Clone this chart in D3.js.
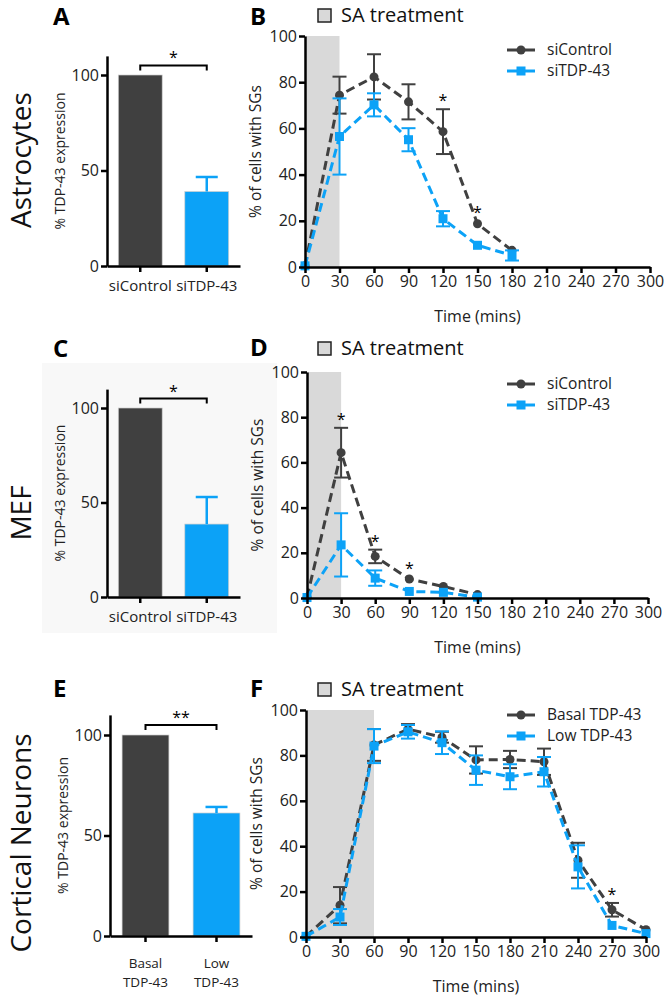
<!DOCTYPE html>
<html>
<head>
<meta charset="utf-8">
<script src="https://cdn.jsdelivr.net/npm/d3@7"></script>
<style>
  body { margin: 0; background: #fff; }
  text { font-family: "Open Sans", sans-serif; }
</style>
</head>
<body>
<div id="fig"></div>
<script>
// ---- bar panels (A, C, E) ----
const barCats = ['siControl', 'siTDP-43'];
const barCatsE = ['Basal TDP-43', 'Low TDP-43'];
const aVals = [100, 39];
const aErr = [0, 7.6];
const cVals = [100, 38.6];
const cErr = [0, 14.3];
const eVals = [100, 61.2];
const eErr = [0, 3];

// ---- time course panels (B, D, F) ----
const timeTicks = [0, 30, 60, 90, 120, 150, 180, 210, 240, 270, 300];

const bTimes = [0, 30, 60, 90, 120, 150, 180];
const bCtrl = [0.5, 74.4, 82.3, 71.5, 58.6, 18.7, 7.2];
const bCtrlErr = [0.5, 8, 9.8, 7.6, 9.7, 1, 0.8];
const bTdp = [0.5, 56.5, 70.2, 55.1, 20.9, 9.4, 5];
const bTdpErr = [0.5, 16.5, 5, 5, 3.3, 1, 2.2];
const bSig = [120, 150];

const dTimes = [0, 30, 60, 90, 120, 150];
const dCtrl = [0.3, 64.3, 18.4, 8.4, 5.1, 1.5];
const dCtrlErr = [0.3, 11, 3, 0.8, 0.6, 0.5];
const dTdp = [0.2, 23.5, 8.8, 2.9, 2.5, 0.4];
const dTdpErr = [0.2, 14, 3.4, 1, 0.8, 0.3];
const dSig = [30, 60, 90];

const fTimes = [0, 30, 60, 90, 120, 150, 180, 210, 240, 270, 300];
const fBasal = [0.3, 14, 84.6, 91.6, 88, 78, 78.2, 77.2, 33.8, 12, 3.2];
const fBasalErr = [0.3, 8, 7, 2.2, 2.4, 6, 3.8, 5.8, 7.7, 3, 0.6];
const fLow = [0.3, 8.8, 84.1, 90.4, 85.6, 73.5, 70.6, 72.8, 30.9, 5.1, 1.5];
const fLowErr = [0.3, 3.5, 7.5, 3, 5, 6.5, 5.5, 6.5, 9.5, 0.8, 0.8];
const fSig = [270];

const dark = '#404040';
const blue = '#0ca2f7';

const svg = d3.select('#fig').append('svg')
  .attr('width', 666)
  .attr('height', 1000);

function styleAxis(g, fs) {
  g.attr('font-family', null).attr('font-size', null);
  g.select('.domain').attr('stroke', '#000').attr('stroke-width', 2.5);
  g.selectAll('.tick line').attr('stroke', '#000').attr('stroke-width', 2.5);
  g.selectAll('.tick text').style('font-size', fs + 'px').attr('fill', '#222');
}

// light panel behind C
svg.append('rect')
  .attr('x', 42).attr('y', 363)
  .attr('width', 235).attr('height', 270)
  .attr('fill', '#f8f8f8');

// row titles
[['Astrocytes', 160], ['MEF', 513], ['Cortical Neurons', 843]].forEach(function (t) {
  svg.append('text')
    .attr('transform', 'translate(31,' + t[1] + ') rotate(-90)')
    .attr('text-anchor', 'middle')
    .style('font-size', '28px')
    .attr('fill', '#111')
    .text(t[0]);
});

function letter(ch, x, y) {
  svg.append('text')
    .attr('x', x).attr('y', y)
    .style('font-size', '24px')
    .style('font-weight', 'bold')
    .attr('fill', '#000')
    .text(ch);
}

function barPanel(o) {
  const y = d3.scaleLinear().domain([0, 110])
    .range([o.y0, o.y0 - 1.1 * (o.y0 - o.y100)]);
  const x = d3.scaleBand().domain(o.cats)
    .range([o.ax, o.ax + o.w])
    .paddingInner(0.34).paddingOuter(0.17);
  const g = svg.append('g');
  const colors = [dark, blue];

  g.selectAll('rect.bar')
    .data(o.vals)
    .enter()
    .append('rect')
    .attr('class', 'bar')
    .attr('x', (d, i) => x(o.cats[i]))
    .attr('y', d => y(d))
    .attr('width', x.bandwidth())
    .attr('height', d => y(0) - y(d))
    .attr('fill', (d, i) => colors[i])
    .attr('stroke', '#cfcfcf')
    .attr('stroke-width', 0.7);

  o.vals.forEach(function (v, i) {
    if (!o.errs[i]) return;
    const cx = x(o.cats[i]) + x.bandwidth() / 2;
    g.append('line')
      .attr('x1', cx).attr('x2', cx)
      .attr('y1', y(v)).attr('y2', y(v + o.errs[i]))
      .attr('stroke', colors[i]).attr('stroke-width', 2.5);
    g.append('line')
      .attr('x1', cx - 11).attr('x2', cx + 11)
      .attr('y1', y(v + o.errs[i])).attr('y2', y(v + o.errs[i]))
      .attr('stroke', colors[i]).attr('stroke-width', 2.5);
  });

  const ya = g.append('g')
    .attr('transform', 'translate(' + o.ax + ',0)')
    .call(d3.axisLeft(y).tickValues([0, 50, 100]).tickSize(6).tickSizeOuter(0).tickPadding(2));
  styleAxis(ya, 16);

  const xa = g.append('g')
    .attr('transform', 'translate(0,' + o.y0 + ')')
    .call(d3.axisBottom(x).tickSize(6).tickSizeOuter(0).tickFormat(''));
  styleAxis(xa, 14);

  // category labels (split on space for two-line labels)
  o.cats.forEach(function (c, i) {
    const cx = x(c) + x.bandwidth() / 2;
    const lines = o.twoLine ? c.split(' ') : [c];
    const t = g.append('text')
      .attr('text-anchor', 'middle')
      .style('font-size', o.twoLine ? '13.5px' : '15px')
      .attr('fill', '#222');
    lines.forEach(function (ln, k) {
      t.append('tspan')
        .attr('x', cx)
        .attr('y', o.y0 + (o.twoLine ? 32 + k * 19 : 25))
        .text(ln);
    });
  });

  // y label
  g.append('text')
    .attr('transform', 'translate(' + (o.ax - 42) + ',' + y(55) + ') rotate(-90)')
    .attr('text-anchor', 'middle')
    .style('font-size', '14px')
    .attr('fill', '#222')
    .text('% TDP-43 expression');

  // significance bracket
  const x1 = x(o.cats[0]) + x.bandwidth() / 2;
  const x2 = x(o.cats[1]) + x.bandwidth() / 2;
  const by = y(105);
  g.append('path')
    .attr('d', 'M' + x1 + ',' + (by + 5) + 'V' + by + 'H' + x2 + 'V' + (by + 5))
    .attr('fill', 'none').attr('stroke', '#000').attr('stroke-width', 2);
  g.append('text')
    .attr('x', (x1 + x2) / 2).attr('y', by - 2)
    .attr('text-anchor', 'middle')
    .style('font-size', '16px')
    .attr('fill', '#000')
    .text(o.star);
}

function linePanel(o) {
  const x = d3.scaleLinear().domain([0, 300]).range([o.xl, o.xr]);
  const y = d3.scaleLinear().domain([0, 100]).range([o.yb, o.yt]);
  const g = svg.append('g');

  g.append('rect')
    .attr('x', x(0)).attr('y', y(100))
    .attr('width', x(o.shade) - x(0))
    .attr('height', y(0) - y(100))
    .attr('fill', '#d9d9d9');

  const line = d3.line().x(d => x(d[0])).y(d => y(d[1]));

  o.series.forEach(function (s) {
    const pts = o.times.map((t, i) => [t, s.vals[i]]);
    g.append('path')
      .datum(pts)
      .attr('d', line)
      .attr('fill', 'none')
      .attr('stroke', s.color)
      .attr('stroke-width', 3)
      .attr('stroke-dasharray', '9,5');

    o.times.forEach(function (t, i) {
      const v = s.vals[i], e = s.errs[i];
      if (e > 1.2) {
        g.append('line')
          .attr('x1', x(t)).attr('x2', x(t))
          .attr('y1', y(v - e)).attr('y2', y(v + e))
          .attr('stroke', s.color).attr('stroke-width', 2);
        [v - e, v + e].forEach(function (yy) {
          g.append('line')
            .attr('x1', x(t) - 7).attr('x2', x(t) + 7)
            .attr('y1', y(yy)).attr('y2', y(yy))
            .attr('stroke', s.color).attr('stroke-width', 2);
        });
      }
    });

    if (s.shape === 'circle') {
      g.selectAll(null).data(pts).enter().append('circle')
        .attr('cx', d => x(d[0])).attr('cy', d => y(d[1]))
        .attr('r', 4.5).attr('fill', s.color);
    } else {
      g.selectAll(null).data(pts).enter().append('rect')
        .attr('x', d => x(d[0]) - 4.5).attr('y', d => y(d[1]) - 4.5)
        .attr('width', 9).attr('height', 9).attr('fill', s.color);
    }
  });

  // asterisks
  o.sig.forEach(function (t) {
    const i = o.times.indexOf(t);
    const top = d3.max(o.series, s => s.vals[i] + s.errs[i]);
    g.append('text')
      .attr('x', x(t)).attr('y', y(top) - 3)
      .attr('text-anchor', 'middle')
      .style('font-size', '16px')
      .attr('fill', '#000')
      .text('*');
  });

  const ya = g.append('g')
    .attr('transform', 'translate(' + o.xl + ',0)')
    .call(d3.axisLeft(y).tickValues([0, 20, 40, 60, 80, 100]).tickSize(6).tickSizeOuter(0).tickPadding(2));
  styleAxis(ya, 16);

  const xa = g.append('g')
    .attr('transform', 'translate(0,' + o.yb + ')')
    .call(d3.axisBottom(x).tickValues(timeTicks).tickSize(6).tickSizeOuter(0).tickPadding(3));
  styleAxis(xa, 16);

  g.append('text')
    .attr('transform', 'translate(' + (o.xl - 44) + ',' + y(50) + ') rotate(-90)')
    .attr('text-anchor', 'middle')
    .style('font-size', '15.5px')
    .attr('fill', '#222')
    .text('% of cells with SGs');

  g.append('text')
    .attr('x', x(150)).attr('y', o.yb + 55)
    .attr('text-anchor', 'middle')
    .style('font-size', '16px')
    .attr('fill', '#222')
    .text('Time (mins)');

  // SA treatment key
  g.append('rect')
    .attr('x', 318).attr('y', o.saY - 13)
    .attr('width', 13).attr('height', 13)
    .attr('fill', '#d9d9d9').attr('stroke', '#222').attr('stroke-width', 1.5);
  g.append('text')
    .attr('x', 341).attr('y', o.saY)
    .style('font-size', '20px')
    .attr('fill', '#111')
    .text('SA treatment');

  // series legend
  o.series.forEach(function (s, k) {
    const ly = o.legY + k * 21;
    g.append('line')
      .attr('x1', 507).attr('x2', 535)
      .attr('y1', ly).attr('y2', ly)
      .attr('stroke', s.color).attr('stroke-width', 3);
    if (s.shape === 'circle') {
      g.append('circle').attr('cx', 521).attr('cy', ly).attr('r', 4.5).attr('fill', s.color);
    } else {
      g.append('rect').attr('x', 516.5).attr('y', ly - 4.5)
        .attr('width', 9).attr('height', 9).attr('fill', s.color);
    }
    g.append('text')
      .attr('x', 547).attr('y', ly)
      .attr('dy', '0.35em')
      .style('font-size', '15.5px')
      .attr('fill', '#222')
      .text(s.name);
  });
}

// Row 1
letter('A', 53, 25);
barPanel({ ax: 107, w: 133, y0: 266, y100: 75, cats: barCats, vals: aVals, errs: aErr, star: '*' });
letter('B', 250, 25);
linePanel({
  xl: 305, xr: 650, yb: 267, yt: 36, shade: 30, saY: 22, legY: 50,
  times: bTimes, sig: bSig,
  series: [
    { name: 'siControl', vals: bCtrl, errs: bCtrlErr, color: dark, shape: 'circle' },
    { name: 'siTDP-43', vals: bTdp, errs: bTdpErr, color: blue, shape: 'square' }
  ]
});

// Row 2
letter('C', 53, 357);
barPanel({ ax: 107, w: 133, y0: 597, y100: 408, cats: barCats, vals: cVals, errs: cErr, star: '*' });
letter('D', 250, 356);
linePanel({
  xl: 307, xr: 648, yb: 598, yt: 372, shade: 30, saY: 355, legY: 384,
  times: dTimes, sig: dSig,
  series: [
    { name: 'siControl', vals: dCtrl, errs: dCtrlErr, color: dark, shape: 'circle' },
    { name: 'siTDP-43', vals: dTdp, errs: dTdpErr, color: blue, shape: 'square' }
  ]
});

// Row 3
letter('E', 53, 697);
barPanel({ ax: 110, w: 142, y0: 936, y100: 735, cats: barCatsE, vals: eVals, errs: eErr, star: '**', twoLine: true });
letter('F', 250, 697);
linePanel({
  xl: 306, xr: 646, yb: 937, yt: 710, shade: 60, saY: 696, legY: 715,
  times: fTimes, sig: fSig,
  series: [
    { name: 'Basal TDP-43', vals: fBasal, errs: fBasalErr, color: dark, shape: 'circle' },
    { name: 'Low TDP-43', vals: fLow, errs: fLowErr, color: blue, shape: 'square' }
  ]
});
</script>
</body>
</html>
